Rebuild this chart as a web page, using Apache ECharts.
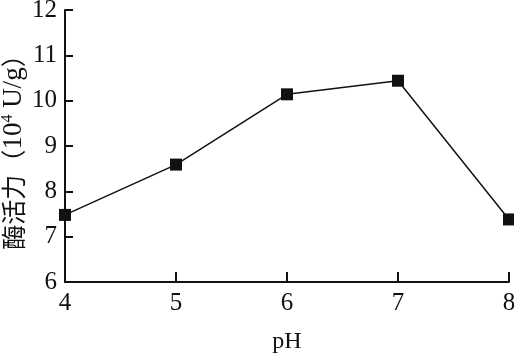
<!DOCTYPE html>
<html>
<head>
<meta charset="utf-8">
<script src="https://cdn.jsdelivr.net/npm/echarts@6/dist/echarts.min.js"></script>
<style>html,body{margin:0;padding:0;background:#fff}#c{width:514px;height:355px}</style>
</head>
<body>
<div id="c"></div>
<script>
var categories = [4, 5, 6, 7, 8];
var activity = [7.48, 8.59, 10.14, 10.44, 7.38];
var yTicks = [6, 7, 8, 9, 10, 11, 12];

var chart = echarts.init(document.getElementById('c'));
var serif = "'Liberation Serif', 'Times New Roman', serif";
chart.setOption({
  animation: false,
  backgroundColor: '#fff',
  grid: {left: 65, right: 5, top: 10, bottom: 73, containLabel: false, outerBoundsMode: 'none'},
  xAxis: {
    type: 'value', min: 4, max: 8, interval: 1,
    name: 'pH', nameLocation: 'middle', nameGap: 48, nameMoveOverlap: false,
    nameTextStyle: {fontFamily: serif, fontSize: 24, color: '#111'},
    axisLine: {show: true, lineStyle: {color: '#111', width: 2}},
    axisTick: {show: true, inside: true, length: 10, lineStyle: {color: '#111', width: 2}},
    axisLabel: {fontFamily: serif, fontSize: 25, color: '#111', margin: 9},
    splitLine: {show: false}
  },
  yAxis: {
    type: 'value', min: yTicks[0], max: yTicks[yTicks.length - 1], interval: 1,
    name: '{cn|酶活力（}{n|10}{sup|4}{n| U/g}{cn|）}',
    nameLocation: 'middle', nameGap: 38, nameRotate: 90, nameMoveOverlap: false,
    nameTextStyle: {
      fontFamily: serif, fontSize: 27, color: '#111',
      rich: {
        cn: {fontFamily: "'Noto Sans CJK SC'", fontSize: 25, color: '#111'},
        n: {fontFamily: serif, fontSize: 27, color: '#111'},
        sup: {fontFamily: serif, fontSize: 16, color: '#111', verticalAlign: 'top', padding: [0, 0, 8, 0]}
      }
    },
    axisLine: {show: true, lineStyle: {color: '#111', width: 2}},
    axisTick: {show: true, inside: true, length: 8, lineStyle: {color: '#111', width: 2}},
    axisLabel: {fontFamily: serif, fontSize: 25, color: '#111', margin: 8},
    splitLine: {show: false}
  },
  series: [{
    type: 'line',
    data: categories.map(function (x, i) { return [x, activity[i]]; }),
    symbol: 'rect', symbolSize: 12,
    clip: false,
    lineStyle: {color: '#111', width: 1.5},
    itemStyle: {color: '#111'}
  }]
});
</script>
</body>
</html>
